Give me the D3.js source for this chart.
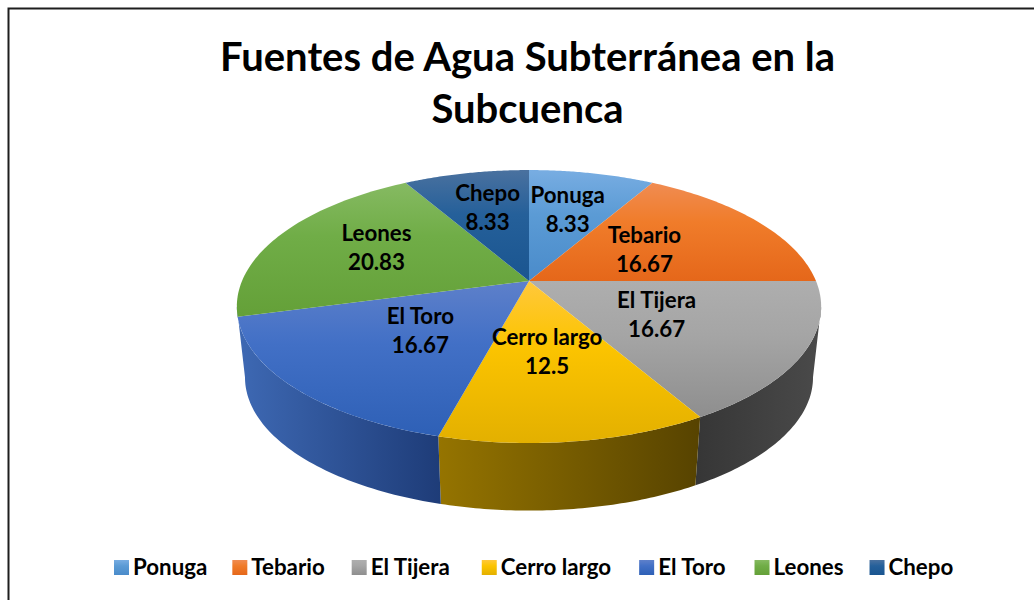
<!DOCTYPE html>
<html><head><meta charset="utf-8">
<script src="https://cdn.jsdelivr.net/npm/d3@7/dist/d3.min.js"></script>
<style>html,body{margin:0;padding:0;background:#fff}svg{display:block}text{font-family:Lato,"Open Sans",sans-serif;font-weight:700;fill:#000}</style>
</head><body><svg id="c" width="1034" height="600"></svg>
<script>
const categories = ["Ponuga","Tebario","El Tijera","Cerro largo","El Toro","Leones","Chepo"];
const values = [8.33,16.67,16.67,12.5,16.67,20.83,8.33];
const valueLabels = ["8.33","16.67","16.67","12.5","16.67","20.83","8.33"];
const titleLines = ["Fuentes de Agua Subterránea en la","Subcuenca"];

// styles and layout
const topLight = ["#78ade2","#f08c52","#aeaeae","#ffc83c","#5e80ca","#86ba62","#4a719f"];
const topBase  = ["#5b9bd5","#f07c2a","#a5a5a5","#fcc400","#4270c6","#70ad47","#25609a"];
const topDark  = ["#4a8bca","#e5671a","#8e8e8e","#e3b000","#2e60b6","#64a038","#1a5590"];
const sideLeft = ["#4a8bca","#c05510","#363636","#957400","#3e69b4","#4d7d2b","#1a4a80"];
const sideRight= ["#3a70a8","#a04a10","#4a4a4a","#574300","#1e3c78","#4d7d2b","#1a4a80"];
const labelRadius = [0.6,0.49,0.49,0.49,0.5,0.6,0.62];
const labelNudgeY = [-1,1,1,2,1,-3,-1];
const labelNudgeX = [-1.5,-1,0,-2,0,0,0];
const legendGap = [25,27,32,28,29,26,0];
const top3d = {cx:529, cy:281, a:287, b:131.7, k:0.187};
const bot3d = {cx:529, cy:352.5, a:279, b:128.5, k:0.187};

const svg = d3.select("#c");
const defs = svg.append("defs");
const project = (p, ang, r=1) => {
  const u = Math.sin(ang)*r, v = Math.cos(ang)*r, w = 1 + p.k*v;
  return [p.cx + p.a*u/w, p.cy - p.b*v/w];
};
const arcs = d3.pie().sort(null).value(d=>d).startAngle(0).endAngle(2*Math.PI)(values);
const sweep = (s,e) => d3.range(0,61).map(i=>s+(e-s)*i/60);
const line = d3.line();

// silhouette tangents of the rim: the widest points of the top face
const scan = d3.range(0,Math.PI,0.002);
const tR = d3.greatest(scan,t=>project(top3d,t)[0]);
const tL = 2*Math.PI-tR;
const walls = arcs.map(a=>({s:Math.max(a.startAngle,tR),e:Math.min(a.endAngle,tL)}))
  .map((w,i)=>({...w,i})).filter(w=>w.e-w.s>0.1);
walls[walls.length-1].e = tL;

// frame
svg.append("path").attr("d","M8.5,600V8.5H1034").attr("fill","none").attr("stroke","#1e1e1e").attr("stroke-width",2);

// gradients
const grad = (id,x2,y2,stops)=>{const g=defs.append("linearGradient").attr("id",id).attr("x1",0).attr("y1",0).attr("x2",x2).attr("y2",y2);
  stops.forEach(([o,c])=>g.append("stop").attr("offset",o).attr("stop-color",c));};
categories.forEach((c,i)=>{
  grad("t"+i,0,1,[[0,topLight[i]],[0.4,topBase[i]],[1,topDark[i]]]);
  grad("s"+i,1,0,[[0,sideLeft[i]],[1,sideRight[i]]]);
});

// walls
svg.append("g").selectAll("path").data(walls).join("path")
  .attr("d",w=>{const s=sweep(w.s,w.e);return line([...s.map(t=>project(top3d,t)),...s.slice().reverse().map(t=>project(bot3d,t))])+"Z";})
  .attr("fill",w=>`url(#s${w.i})`);

// top faces
svg.append("g").selectAll("path").data(arcs).join("path")
  .attr("d",a=>line([[top3d.cx,top3d.cy],...sweep(a.startAngle,a.endAngle).map(t=>project(top3d,t))])+"Z")
  .attr("fill",(a,i)=>`url(#t${i})`);

// data labels
svg.append("g").selectAll("text").data(arcs).join("text").attr("text-anchor","middle").attr("font-size",22.3)
  .each(function(a,i){
    const [x,y]=project(top3d,(a.startAngle+a.endAngle)/2,labelRadius[i]);
    d3.select(this).append("tspan").attr("x",x+labelNudgeX[i]).attr("y",y-8+labelNudgeY[i]).text(categories[i]);
    d3.select(this).append("tspan").attr("x",x+labelNudgeX[i]).attr("y",y+21+labelNudgeY[i]).text(valueLabels[i]);
  });

// title
svg.append("g").selectAll("text").data(titleLines).join("text").attr("text-anchor","middle")
  .attr("x",527.5).attr("y",(d,i)=>71+i*52).attr("font-size",40).text(d=>d);

// legend
const items = svg.append("g").selectAll("g").data(categories).join("g");
items.append("rect").attr("width",15).attr("height",15).attr("y",560).attr("fill",(d,i)=>`url(#t${i})`);
items.append("text").attr("x",19).attr("y",575).attr("font-size",22.3).text(d=>d);
let cursor=114;
items.each(function(d,i){d3.select(this).attr("transform",`translate(${cursor},0)`);
  cursor+=19+d3.select(this).select("text").node().getComputedTextLength()+legendGap[i];});
</script></body></html>
